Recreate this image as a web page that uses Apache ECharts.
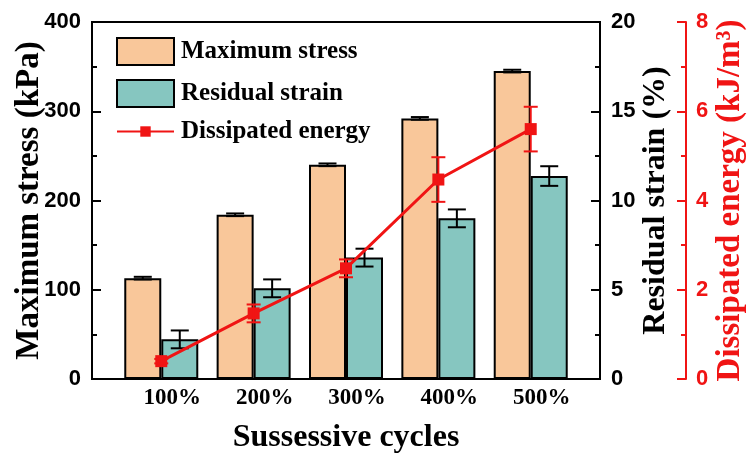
<!DOCTYPE html>
<html>
<head>
<meta charset="utf-8">
<script src="https://cdn.jsdelivr.net/npm/echarts@6/dist/echarts.min.js"></script>
<style>html,body{margin:0;padding:0;background:#fff}#c{width:753px;height:453px}</style>
</head>
<body>
<div id="c"></div>
<script>
var categories = ['100%', '200%', '300%', '400%', '500%'];
var maxStress = [113, 184, 240, 292, 345];
var maxStressErr = [1.5, 1.5, 1.5, 1.5, 1.5];
var residualStrain = [2.22, 5.08, 6.8, 9.0, 11.37];
var residualStrainErr = [0.5, 0.5, 0.5, 0.5, 0.55];
var dissipatedEnergy = [0.40, 1.47, 2.48, 4.47, 5.6];
var dissipatedEnergyErr = [0.05, 0.2, 0.2, 0.5, 0.5];
var stressTicks = [0, 100, 200, 300, 400];
var strainTicks = [0, 5, 10, 15, 20];
var energyTicks = [0, 2, 4, 6, 8];

var SERIF = 'Liberation Serif';
var SANS = 'Liberation Sans';
var RED = '#F01414';
var BAR_W = 37;

function pos(i) { return i + 1; }
function pairs(vals) { return vals.map(function (v, i) { return [pos(i), v]; }); }
function errData(vals, errs) { return vals.map(function (v, i) { return [pos(i), v - errs[i], v + errs[i]]; }); }

function errRender(offset, capW, color, lw) {
  return function (params, api) {
    var x = api.value(0);
    var lo = api.coord([x, api.value(1)]);
    var hi = api.coord([x, api.value(2)]);
    var cx = lo[0] + offset;
    var st = { stroke: color, lineWidth: lw };
    return {
      type: 'group',
      children: [
        { type: 'line', shape: { x1: cx, y1: lo[1], x2: cx, y2: hi[1] }, style: st },
        { type: 'line', shape: { x1: cx - capW / 2, y1: lo[1], x2: cx + capW / 2, y2: lo[1] }, style: st },
        { type: 'line', shape: { x1: cx - capW / 2, y1: hi[1], x2: cx + capW / 2, y2: hi[1] }, style: st }
      ]
    };
  };
}

function yAxisBase(color, ticks) {
  return {
    type: 'value',
    min: ticks[0],
    max: ticks[ticks.length - 1],
    interval: ticks[1] - ticks[0],
    nameLocation: 'middle',
    nameRotate: 90,
    nameMoveOverlap: false,
    splitLine: { show: false },
    axisLine: { show: true, lineStyle: { color: color, width: 2 } },
    axisTick: { show: true, inside: true, length: 9, lineStyle: { color: color, width: 2 } },
    minorTick: { show: true, splitNumber: 2, length: 5, lineStyle: { color: color, width: 2 } },
    axisLabel: { color: color, fontFamily: SANS, fontWeight: 'bold', fontSize: 22, margin: 11 },
    nameTextStyle: { color: color, fontFamily: SERIF, fontWeight: 'bold', fontSize: 32 }
  };
}

var y0 = yAxisBase('#000', stressTicks);
y0.position = 'left';
y0.name = 'Maximum stress (kPa)';
y0.nameGap = 46;
y0.nameTextStyle.fontSize = 33;

var y1 = yAxisBase('#000', strainTicks);
y1.position = 'right';
y1.name = 'Residual strain (%)';
y1.nameGap = 40;

var y2 = yAxisBase(RED, energyTicks);
y2.position = 'right';
y2.offset = 86;
y2.name = 'Dissipated energy (kJ/m³)';
y2.nameGap = 28;
y2.nameTextStyle.fontSize = 33;
y2.axisLabel.margin = 10;

var legendText = { fontFamily: SERIF, fontWeight: 'bold', fontSize: 25, color: '#000', padding: [0, 0, 0, 2] };

var option = {
  animation: false,
  backgroundColor: '#fff',
  grid: { left: 92, right: 153, top: 22, bottom: 74, outerBoundsMode: 'none', containLabel: false,
          show: true, borderColor: '#000', borderWidth: 2, backgroundColor: 'transparent' },
  legend: [
    {
      orient: 'vertical', left: 116, top: 37, padding: 0,
      itemWidth: 57, itemHeight: 27, itemGap: 13,
      textStyle: legendText,
      data: [{ name: 'Maximum stress', icon: 'rect' }, { name: 'Residual strain', icon: 'rect' }]
    },
    {
      orient: 'vertical', left: 116, top: 119, padding: 0,
      itemWidth: 57, itemHeight: 13, itemGap: 10,
      textStyle: legendText,
      data: ['Dissipated energy']
    }
  ],
  xAxis: {
    type: 'value', min: 0.25, max: 5.75,
    name: 'Sussessive cycles', nameLocation: 'middle', nameGap: 43, nameMoveOverlap: false,
    nameTextStyle: { color: '#000', fontFamily: SERIF, fontWeight: 'bold', fontSize: 32 },
    splitLine: { show: false },
    axisLine: { show: true, lineStyle: { color: '#000', width: 2 } },
    axisTick: { show: false },
    minorTick: { show: false },
    axisLabel: {
      customValues: categories.map(function (c, i) { return pos(i); }),
      formatter: function (v) { return categories[Math.round(v) - 1] || ''; },
      color: '#000', fontFamily: SERIF, fontWeight: 'bold', fontSize: 23, margin: 8,
      padding: [0, 0, 0, 22]
    }
  },
  yAxis: [y0, y1, y2],
  series: [
    {
      name: 'Maximum stress', type: 'bar', yAxisIndex: 0, barWidth: BAR_W, barGap: '0%',
      itemStyle: { color: '#F9C79A', borderColor: '#000', borderWidth: 2 },
      data: pairs(maxStress), z: 2
    },
    {
      name: 'Residual strain', type: 'bar', yAxisIndex: 1, barWidth: BAR_W, barGap: '0%',
      itemStyle: { color: '#86C6C0', borderColor: '#000', borderWidth: 2 },
      data: pairs(residualStrain), z: 2
    },
    {
      name: 'stressErr', type: 'custom', yAxisIndex: 0, z: 3,
      renderItem: errRender(-BAR_W / 2, 18, '#000', 2),
      encode: { x: 0, y: [1, 2] },
      data: errData(maxStress, maxStressErr)
    },
    {
      name: 'strainErr', type: 'custom', yAxisIndex: 1, z: 3,
      renderItem: errRender(BAR_W / 2, 18, '#000', 2),
      encode: { x: 0, y: [1, 2] },
      data: errData(residualStrain, residualStrainErr)
    },
    {
      name: 'Dissipated energy', type: 'line', yAxisIndex: 2, z: 5,
      symbol: 'rect', symbolSize: 12,
      lineStyle: { color: RED, width: 3 },
      itemStyle: { color: RED },
      data: pairs(dissipatedEnergy)
    },
    {
      name: 'energyErr', type: 'custom', yAxisIndex: 2, z: 6,
      renderItem: errRender(0, 14, RED, 2),
      encode: { x: 0, y: [1, 2] },
      data: errData(dissipatedEnergy, dissipatedEnergyErr)
    }
  ]
};

var chart = echarts.init(document.getElementById('c'), null, { renderer: 'canvas' });
chart.setOption(option);
</script>
</body>
</html>
